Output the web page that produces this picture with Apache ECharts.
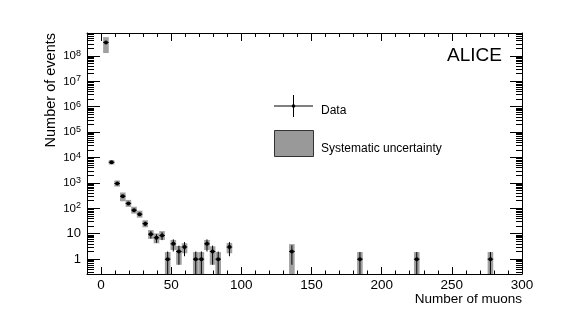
<!DOCTYPE html>
<html>
<head>
<meta charset="utf-8">
<script src="https://cdn.jsdelivr.net/npm/echarts@6/dist/echarts.min.js"></script>
<style>
  html, body { margin: 0; padding: 0; background: #fff; }
  #main { width: 581px; height: 323px; }
</style>
</head>
<body>
<div id="main"></div>
<script>
var FONT = 'Liberation Sans, Arial, Helvetica, sans-serif';

// multiplicity bins (bin centre) and counts
var muons = [3.5, 7.5, 11.5, 15.5, 19.5, 23.5, 27.5, 31.5, 35.5, 39.5, 43.5, 47.5, 51.5,
             55.5, 59.5, 67.5, 71.5, 75.5, 79.5, 83.5, 91.5, 136, 184.5, 225, 277.5];
var events = [3.4e8, 6.5e3, 950, 300, 156, 85, 59, 25, 9.6, 7, 8.5, 1, 4,
              2, 3, 1, 1, 4, 2, 1, 3, 2, 1, 1, 1];
// statistical error bars
var statLow  = [3.4e8, 6.4e3, 920, 283, 144, 76, 51, 20, 6.5, 4.4, 5.6, 0, 2,
                0.6, 1.3, 0, 0, 2, 0.6, 0, 1.3, 0.6, 0, 0, 0];
var statHigh = [3.4e8, 6.6e3, 980, 317, 168, 94, 67, 30, 12.7, 9.6, 11.4, 2, 6,
                3.4, 4.7, 2, 2, 6, 3.4, 2, 4.7, 3.5, 1.9, 1.9, 1.9];
// systematic uncertainty boxes
var sysLow  = [1.3e8, 5.3e3, 720, 190, 114, 62, 43, 18, 6.3, 4.2, 5.7, 0, 2.3,
               0.6, 1.7, 0, 0, 2.3, 0.6, 0, 1.7, 0, 0, 0, 0];
var sysHigh = [5.5e8, 7.9e3, 1250, 420, 214, 116, 81, 34, 14, 10.3, 12.7, 1.9, 5.7,
               3.3, 4.2, 1.9, 1.9, 5.7, 3.2, 1.9, 4.3, 3.9, 1.9, 1.9, 1.9];

var xTicks = [0, 50, 100, 150, 200, 250, 300];
var yTicks = [1, 10, 1e2, 1e3, 1e4, 1e5, 1e6, 1e7, 1e8];

var X_MIN = -10, X_MAX = 300;
var Y_MIN = 0.26, Y_MAX = 8e8;
var HALF_BIN = 2;

var xMinor = [];
for (var v = -10; v <= 300; v += 10) xMinor.push(v);
var yMinor = [];
for (var e = -1; e <= 8; e++) {
    for (var k = 2; k <= 9; k++) {
        var m = k * Math.pow(10, e);
        if (m >= Y_MIN && m <= Y_MAX) yMinor.push(m);
    }
}

var chart = echarts.init(document.getElementById('main'));

function xAxisDef(pos, ticks, len, withLabels, withLine) {
    return {
        type: 'value', position: pos, min: X_MIN, max: X_MAX,
        axisLine: { show: withLine, onZero: false, lineStyle: { color: '#000', width: 1 } },
        axisTick: { show: true, inside: true, length: len, customValues: ticks,
                    lineStyle: { color: '#000', width: 1 } },
        axisLabel: withLabels ? { show: true, customValues: xTicks, margin: 4,
                    color: '#000', fontSize: 13.5, fontFamily: FONT } : { show: false },
        splitLine: { show: false }
    };
}

function yAxisDef(pos, ticks, len, withLabels, withLine) {
    return {
        type: 'log', logBase: 10, position: pos, min: Y_MIN, max: Y_MAX,
        axisLine: { show: withLine, onZero: false, lineStyle: { color: '#000', width: 1 } },
        axisTick: { show: true, inside: true, length: len, customValues: ticks,
                    lineStyle: { color: '#000', width: 1 } },
        axisLabel: withLabels ? {
            show: true, customValues: yTicks, margin: 6, color: '#000',
            fontSize: 13, fontFamily: FONT,
            formatter: function (val) {
                var p = Math.round(Math.log10(val));
                if (p === 0) return '1';
                if (p === 1) return '10';
                return '{b|10}{s|' + p + '}';
            },
            rich: {
                b: { fontSize: 11.5, lineHeight: 14, color: '#000', fontFamily: FONT },
                s: { fontSize: 9, lineHeight: 7, verticalAlign: 'top', color: '#000', fontFamily: FONT }
            }
        } : { show: false },
        splitLine: { show: false }
    };
}

var xMain = xAxisDef('bottom', xTicks, 7, true, true);
xMain.name = 'Number of muons';
xMain.nameLocation = 'end';
xMain.nameGap = 0;
xMain.nameMoveOverlap = false;
xMain.nameTextStyle = { fontSize: 13.5, fontFamily: FONT, color: '#000',
                        align: 'right', verticalAlign: 'top', padding: [18, 0, 0, 0] };

var yMain = yAxisDef('left', yTicks, 13, true, true);
yMain.name = 'Number of events';
yMain.nameLocation = 'end';
yMain.nameGap = 0;
yMain.nameRotate = 90;
yMain.nameMoveOverlap = false;
yMain.nameTextStyle = { fontSize: 14.5, fontFamily: FONT, color: '#000',
                        align: 'right', verticalAlign: 'bottom', padding: [0, 0, 29, 0] };

var option = {
    animation: false,
    backgroundColor: '#fff',
    grid: { left: 87, right: 59, top: 33, bottom: 49, containLabel: false },
    xAxis: [
        xMain,
        xAxisDef('bottom', xMinor, 3.5, false, false),
        xAxisDef('top', xTicks, 8, false, true),
        xAxisDef('top', xMinor, 4, false, false)
    ],
    yAxis: [
        yMain,
        yAxisDef('left', yMinor, 7, false, false),
        yAxisDef('right', yTicks, 12, false, true),
        yAxisDef('right', yMinor, 6, false, false)
    ],
    graphic: [
        { type: 'text', x: 502, y: 56,
          style: { text: 'ALICE', align: 'right', verticalAlign: 'middle',
                   font: '19px ' + FONT, fill: '#000' } },
        { type: 'line', shape: { x1: 274, y1: 106, x2: 313, y2: 106 },
          style: { stroke: '#000', lineWidth: 1 } },
        { type: 'line', shape: { x1: 293.5, y1: 95, x2: 293.5, y2: 117 },
          style: { stroke: '#000', lineWidth: 1 } },
        { type: 'circle', shape: { cx: 293.5, cy: 106, r: 1.8 }, style: { fill: '#000' } },
        { type: 'text', x: 321, y: 111,
          style: { text: 'Data', verticalAlign: 'middle', font: '12px ' + FONT, fill: '#000' } },
        { type: 'rect', shape: { x: 274.5, y: 130.5, width: 39, height: 26 },
          style: { fill: '#999', stroke: '#333', lineWidth: 1 } },
        { type: 'text', x: 321, y: 149,
          style: { text: 'Systematic uncertainty', verticalAlign: 'middle',
                   font: '12px ' + FONT, fill: '#000' } }
    ],
    series: [
        {
            name: 'Systematic uncertainty',
            type: 'custom',
            clip: true,
            data: muons.map(function (x, i) { return [x, events[i]]; }),
            renderItem: function (params, api) {
                var i = params.dataIndex;
                var x = api.value(0);
                var p0 = api.coord([x - HALF_BIN, sysHigh[i]]);
                var p1 = api.coord([x + HALF_BIN, Math.max(sysLow[i], Y_MIN)]);
                return {
                    type: 'rect',
                    shape: { x: p0[0], y: p0[1], width: p1[0] - p0[0], height: p1[1] - p0[1] },
                    style: { fill: '#a0a0a0' }
                };
            }
        },
        {
            name: 'Data',
            type: 'custom',
            clip: true,
            data: muons.map(function (x, i) { return [x, events[i]]; }),
            renderItem: function (params, api) {
                var i = params.dataIndex;
                var x = api.value(0);
                var c = api.coord([x, api.value(1)]);
                var top = api.coord([x, statHigh[i]]);
                var bot = api.coord([x, Math.max(statLow[i], Y_MIN)]);
                var l = api.coord([x - HALF_BIN, api.value(1)]);
                var r = api.coord([x + HALF_BIN, api.value(1)]);
                return {
                    type: 'group',
                    children: [
                        { type: 'line', shape: { x1: c[0], y1: top[1], x2: c[0], y2: bot[1] },
                          style: { stroke: '#000', lineWidth: 1 } },
                        { type: 'line', shape: { x1: l[0], y1: c[1], x2: r[0], y2: c[1] },
                          style: { stroke: '#000', lineWidth: 1 } },
                        { type: 'circle', shape: { cx: c[0], cy: c[1], r: 2 },
                          style: { fill: '#000' } }
                    ]
                };
            }
        }
    ]
};

chart.setOption(option);
</script>
</body>
</html>
